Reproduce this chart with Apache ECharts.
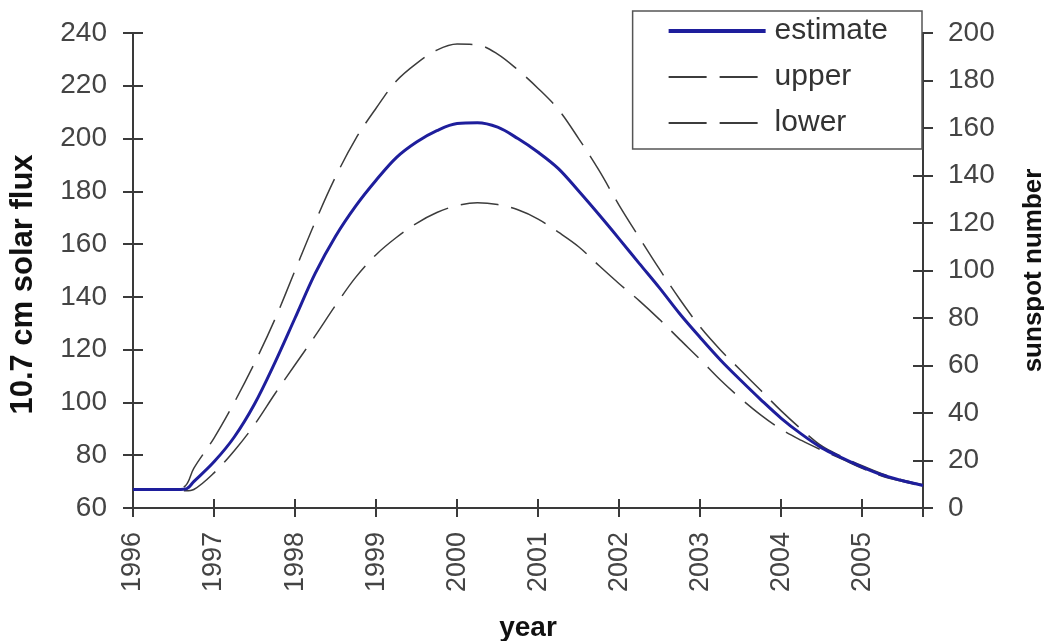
<!DOCTYPE html>
<html>
<head>
<meta charset="utf-8">
<script src="https://cdn.jsdelivr.net/npm/echarts@6/dist/echarts.min.js"></script>
<style>
  html, body { margin: 0; padding: 0; background: #fff; }
  #chart { width: 1044px; height: 641px; }
</style>
</head>
<body>
<div id="chart"></div>
<script>
const years = [
  1996.0, 1996.25, 1996.5, 1996.65, 1996.75, 1997.0, 1997.25, 1997.5, 1997.75,
  1998.0, 1998.25, 1998.5, 1998.75, 1999.0, 1999.25, 1999.5, 1999.75,
  2000.0, 2000.25, 2000.5, 2000.75, 2001.0, 2001.25, 2001.5, 2001.75,
  2002.0, 2002.25, 2002.5, 2002.75, 2003.0, 2003.25, 2003.5, 2003.75,
  2004.0, 2004.25, 2004.5, 2004.75, 2005.0, 2005.25, 2005.5, 2005.75
]
const estimate = [
  67, 67, 67, 67.2, 70, 77.5, 86.9, 99.4, 115,
  132, 149, 163, 174.5, 184.2, 192.8, 198.7, 203,
  205.7, 206, 204.3, 200, 194.8, 188.6, 180.1, 171.2,
  162, 152.6, 143.3, 133.5, 124.6, 116.1, 108.4, 101,
  94, 88, 82.8, 79, 75.5, 72.5, 70.3, 68.5
]
const upper = [
  67, 67, 67, 68.5, 75, 86.5, 100, 114.9, 131.4,
  150, 168.5, 185.5, 200, 211.5, 221.8, 228.5, 233.5,
  235.8, 235.5, 232, 226, 219, 211, 200, 188,
  174.7, 162.4, 150.4, 139, 128.6, 119.9, 112.2, 104.5,
  96.8, 89.8, 83.5, 79.5, 76, 72.9, 70.6, 68.8
]
const lower = [
  67, 67, 67, 66.5, 67, 73.3, 81.7, 91.6, 103.2,
  114.3, 125.3, 136.8, 147.5, 156, 162.5, 167.9, 172,
  174.6, 175.7, 175, 173, 169.5, 164.5, 159, 151.9,
  145, 138.5, 131.4, 123.8, 116.3, 108.5, 101.5, 95.2,
  89.8, 85.6, 81.9, 78.5, 75, 72, 70, 68.3
]

const font = "'Liberation Sans', Arial, sans-serif"
const axisColor = '#3a3a3a'
const blue = '#1e1e9c'
const dashGray = '#3c3c3c'
const pairs = (vals) => years.map((y, i) => [y, vals[i]])

const chart = echarts.init(document.getElementById('chart'))

const gridBox = { left: 133, right: 121, top: 33, bottom: 133, outerBoundsMode: 'none' }
const tickStyle = { color: axisColor, width: 2 }

// a second grid over the first carries tick-only axes, shifted so their ticks cross the axis lines
const tickY = (pos, min, max) => ({
  type: 'value', gridIndex: 1, position: pos, offset: -10, min, max, interval: 20,
  axisLine: { show: false }, axisLabel: { show: false }, splitLine: { show: false },
  axisTick: { show: true, length: 20, lineStyle: tickStyle },
})

const dashedLine = (name, vals) => ({
  name,
  type: 'line',
  data: pairs(vals),
  symbol: 'none',
  smooth: 0.35,
  lineStyle: { color: dashGray, width: 1.5, type: [38, 13] },
  itemStyle: { color: dashGray },
})

chart.setOption({
  animation: false,
  backgroundColor: '#fff',
  grid: [gridBox, { ...gridBox }],
  legend: {
    orient: 'vertical',
    right: 122,
    top: 11,
    data: [
      { name: 'estimate', lineStyle: { width: 4 } },
      { name: 'upper' },
      { name: 'lower' },
    ],
    backgroundColor: '#fff',
    borderColor: '#555',
    borderWidth: 1.5,
    borderRadius: 0,
    padding: [4, 34, 10, 34],
    itemWidth: 97,
    itemHeight: 14,
    itemGap: 14,
    itemStyle: { opacity: 0 },
    textStyle: { fontFamily: font, fontSize: 30, color: '#333', lineHeight: 32, padding: [0, 0, 0, 4] },
  },
  xAxis: [
    {
      type: 'value',
      min: 1996,
      max: 2005.75,
      interval: 1,
      name: 'year',
      nameLocation: 'middle',
      nameGap: 106,
      nameTextStyle: { fontFamily: font, fontSize: 28, fontWeight: 'bold', color: '#111' },
      axisLine: { show: true, lineStyle: tickStyle },
      axisTick: { show: true, length: 9, lineStyle: tickStyle },
      axisLabel: {
        rotate: 90,
        margin: 24,
        fontFamily: font,
        fontSize: 27,
        color: '#444',
        formatter: (v) => (Number.isInteger(v) ? String(v) : ''),
      },
      splitLine: { show: false },
    },
    {
      type: 'value',
      gridIndex: 1,
      position: 'bottom',
      offset: -9,
      min: 1996,
      max: 2005.75,
      interval: 1,
      axisLine: { show: false },
      axisTick: { show: true, length: 18, lineStyle: tickStyle },
      axisLabel: { show: false },
      splitLine: { show: false },
    },
  ],
  yAxis: [
    {
      type: 'value',
      position: 'left',
      min: 60,
      max: 240,
      interval: 20,
      name: '10.7 cm solar flux',
      nameLocation: 'middle',
      nameGap: 94,
      nameTextStyle: { fontFamily: font, fontSize: 31, fontWeight: 'bold', color: '#111', padding: [0, 28, 0, 0] },
      axisLine: { show: true, lineStyle: tickStyle },
      axisTick: { show: true, length: 10, lineStyle: tickStyle },
      axisLabel: { margin: 26, fontFamily: font, fontSize: 28, color: '#444' },
      splitLine: { show: false },
    },
    {
      type: 'value',
      position: 'right',
      min: 0,
      max: 200,
      interval: 20,
      name: 'sunspot number',
      nameLocation: 'middle',
      nameGap: 98,
      nameTextStyle: { fontFamily: font, fontSize: 26, fontWeight: 'bold', color: '#111' },
      axisLine: { show: true, lineStyle: tickStyle },
      axisTick: { show: true, length: 10, lineStyle: tickStyle },
      axisLabel: { margin: 25, fontFamily: font, fontSize: 28, color: '#444' },
      splitLine: { show: false },
    },
    tickY('left', 60, 240),
    tickY('right', 0, 200),
  ],
  series: [
    dashedLine('upper', upper),
    dashedLine('lower', lower),
    {
      name: 'estimate',
      type: 'line',
      data: pairs(estimate),
      symbol: 'none',
      smooth: 0.35,
      lineStyle: { color: blue, width: 3 },
      itemStyle: { color: blue },
      z: 3,
    },
  ],
})
</script>
</body>
</html>
